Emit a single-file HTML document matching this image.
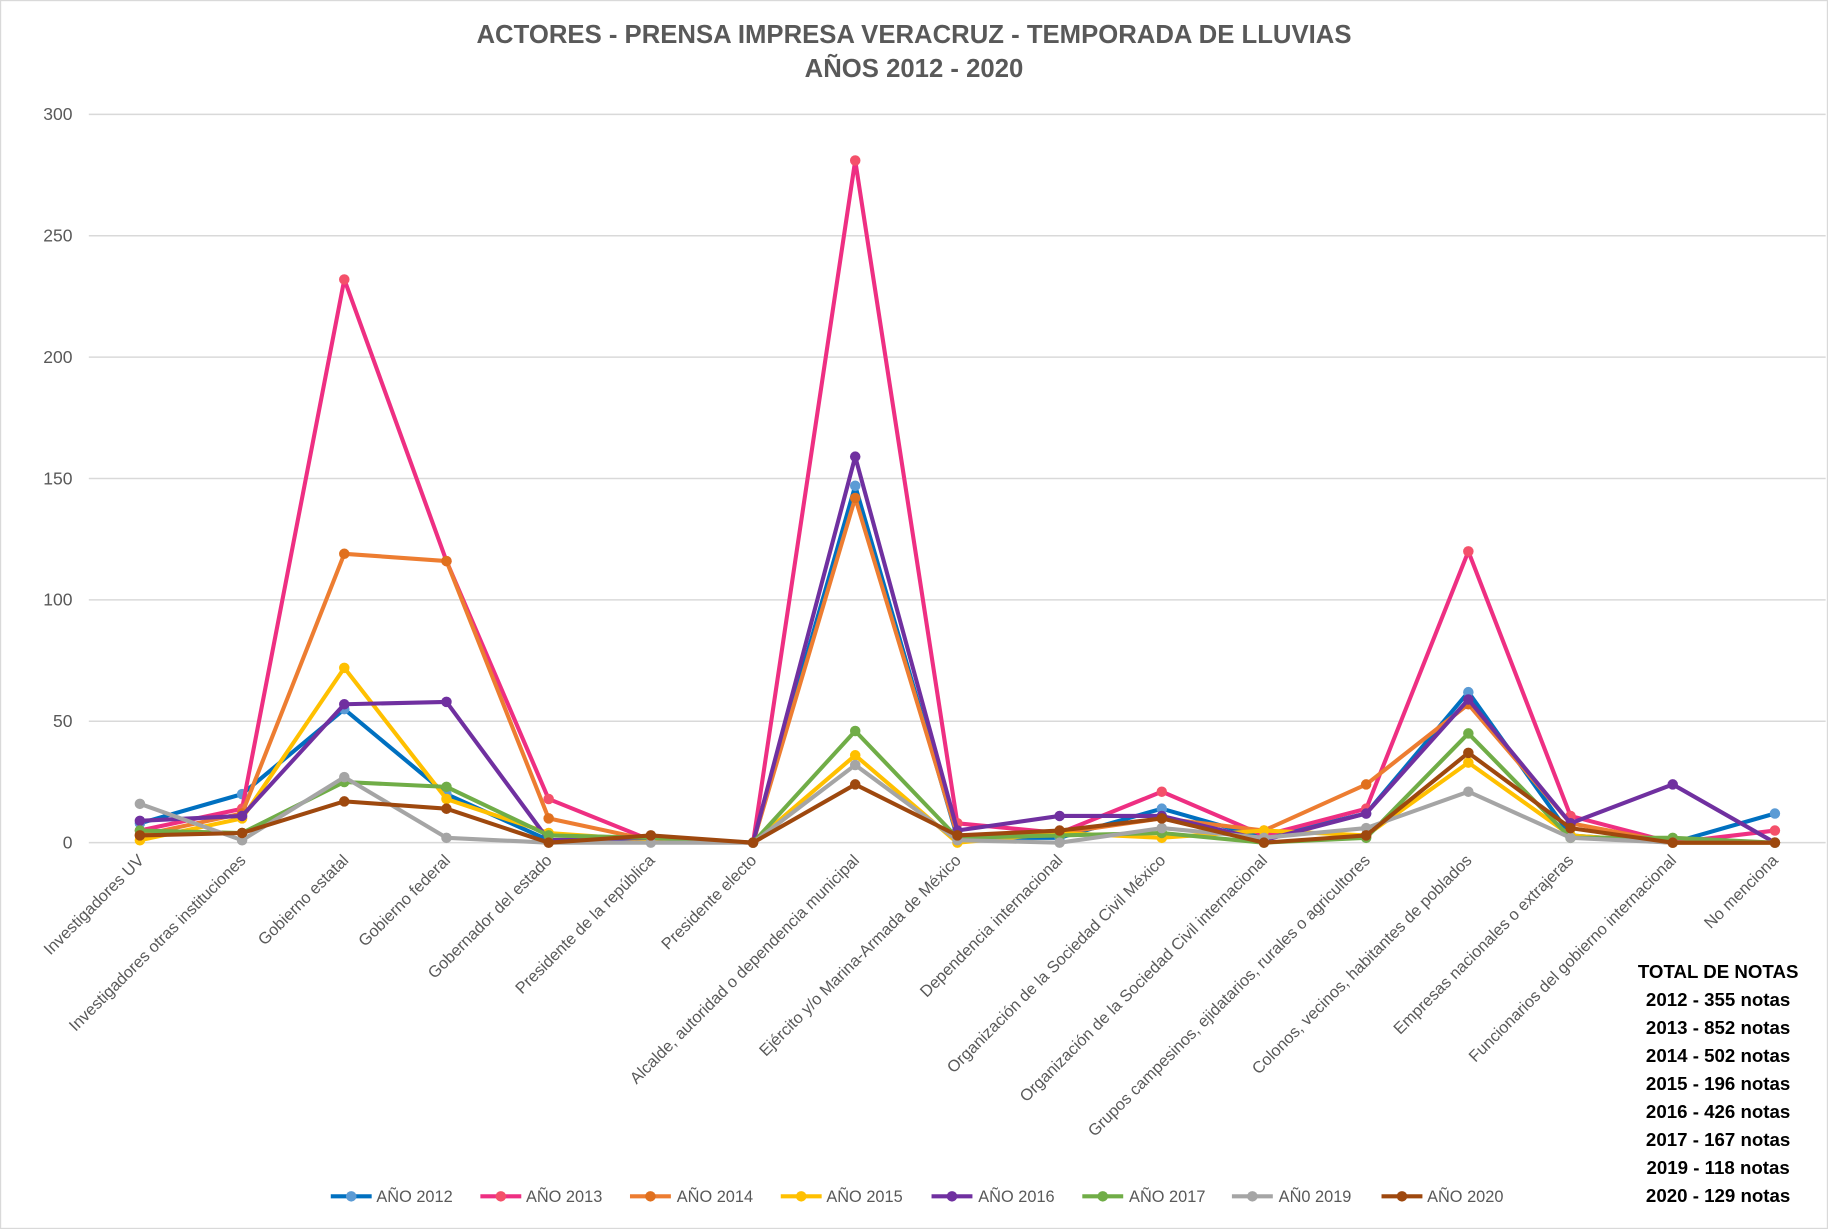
<!DOCTYPE html>
<html><head><meta charset="utf-8"><style>
html,body{margin:0;padding:0;background:#fff}
svg{display:block}
text{font-family:"Liberation Sans",sans-serif}
</style></head><body>
<svg id="s" width="1828" height="1229" viewBox="0 0 1564 1053" preserveAspectRatio="none">
<rect x="0.5" y="0.5" width="1563" height="1052" fill="#fff" stroke="#d9d9d9"/>
<text x="782" y="37" text-anchor="middle" font-size="22" font-weight="bold" fill="#595959">ACTORES  - PRENSA IMPRESA VERACRUZ - TEMPORADA DE LLUVIAS</text>
<text x="782" y="66" text-anchor="middle" font-size="22" font-weight="bold" fill="#595959">AÑOS 2012 - 2020</text>
<g stroke="#d9d9d9" stroke-width="1.3">
<line x1="76" x2="1562" y1="98" y2="98"/><line x1="76" x2="1562" y1="202" y2="202"/><line x1="76" x2="1562" y1="306" y2="306"/><line x1="76" x2="1562" y1="410" y2="410"/><line x1="76" x2="1562" y1="514" y2="514"/><line x1="76" x2="1562" y1="618" y2="618"/><line x1="76" x2="1562" y1="722" y2="722"/>
</g>
<g font-size="15" fill="#595959" text-anchor="end">
<text x="62" y="103">300</text><text x="62" y="207">250</text><text x="62" y="311">200</text><text x="62" y="415">150</text><text x="62" y="519">100</text><text x="62" y="623">50</text><text x="62" y="727">0</text>
</g>
<g font-size="14" fill="#595959" text-anchor="end">
<text transform="translate(124,738) rotate(-45)">Investigadores UV</text>
<text transform="translate(211,738) rotate(-45)">Investigadores otras instituciones</text>
<text transform="translate(299,738) rotate(-45)">Gobierno estatal</text>
<text transform="translate(386,738) rotate(-45)">Gobierno federal</text>
<text transform="translate(473,738) rotate(-45)">Gobernador del estado</text>
<text transform="translate(561,738) rotate(-45)">Presidente de la república</text>
<text transform="translate(648,738) rotate(-45)">Presidente electo</text>
<text transform="translate(736,738) rotate(-45)">Alcalde, autoridad o dependencia municipal</text>
<text transform="translate(823,738) rotate(-45)">Ejército y/o Marina-Armada de México</text>
<text transform="translate(910,738) rotate(-45)">Dependencia internacional</text>
<text transform="translate(998,738) rotate(-45)">Organización de la Sociedad Civil México</text>
<text transform="translate(1085,738) rotate(-45)">Organización de la Sociedad Civil internacional</text>
<text transform="translate(1173,738) rotate(-45)">Grupos campesinos, ejidatarios, rurales o agricultores</text>
<text transform="translate(1260,738) rotate(-45)">Colonos, vecinos, habitantes de poblados</text>
<text transform="translate(1347,738) rotate(-45)">Empresas nacionales o extrajeras</text>
<text transform="translate(1435,738) rotate(-45)">Funcionarios del gobierno internacional</text>
<text transform="translate(1522,738) rotate(-45)">No menciona</text>
</g>
<g id="series"></g>
<g font-size="14" fill="#595959">
<text x="322" y="1030">AÑO 2012</text><text x="450" y="1030">AÑO 2013</text><text x="579" y="1030">AÑO 2014</text><text x="707" y="1030">AÑO 2015</text><text x="837" y="1030">AÑO 2016</text><text x="966" y="1030">AÑO 2017</text><text x="1094" y="1030">AÑ0 2019</text><text x="1221" y="1030">AÑO 2020</text>
</g>
<g font-size="16" font-weight="bold" fill="#000" text-anchor="middle">
<text x="1470" y="838">TOTAL DE NOTAS</text>
<text x="1470" y="862">2012 -  355 notas</text>
<text x="1470" y="886">2013 - 852 notas</text>
<text x="1470" y="910">2014 - 502 notas</text>
<text x="1470" y="934">2015 - 196 notas</text>
<text x="1470" y="958">2016 - 426 notas</text>
<text x="1470" y="982">2017 - 167 notas</text>
<text x="1470" y="1006">2019 - 118 notas</text>
<text x="1470" y="1030">2020 - 129 notas</text>
</g>
</svg>
<script>
var S=[
["#0070C0","#5B9BD5",[8,20,55,20,1,1,0,147,2,2,14,2,12,62,3,0,12],283],
["#EE2F82","#F4506A",[5,14,232,116,18,1,0,281,8,4,21,3,14,120,11,0,5],411],
["#ED7D31","#E0701E",[3,12,119,116,10,1,0,142,3,4,10,5,24,57,8,0,0],539],
["#FFC000","#FFC000",[1,10,72,18,4,1,0,36,0,4,2,5,3,33,3,0,0],668],
["#7030A0","#7030A0",[9,11,57,58,1,2,0,159,5,11,11,1,12,59,8,24,0],797],
["#70AD47","#70AD47",[5,4,25,23,3,2,0,46,2,3,4,0,2,45,2,2,0],926],
["#A5A5A5","#A5A5A5",[16,1,27,2,0,0,0,32,1,0,6,2,6,21,2,0,0],1054],
["#9E480E","#9E480E",[3,4,17,14,0,3,0,24,3,5,10,0,3,37,6,0,0],1182]];
var g=document.getElementById("series"),h="";
S.forEach(function(s){var p=s[2].map(function(v,i){return (119.7+i*87.43).toFixed(1)+","+(722-v*2.08).toFixed(1)}).join(" ");
h+='<polyline points="'+p+'" fill="none" stroke="'+s[0]+'" stroke-width="3.5" stroke-linejoin="round"/>';
s[2].forEach(function(v,i){h+='<circle cx="'+(119.7+i*87.43)+'" cy="'+(722-v*2.08)+'" r="4.5" fill="'+s[1]+'"/>';});
h+='<line x1="'+s[3]+'" x2="'+(s[3]+35)+'" y1="1025" y2="1025" stroke="'+s[0]+'" stroke-width="3.5"/><circle cx="'+(s[3]+17.5)+'" cy="1025" r="4.5" fill="'+s[1]+'"/>';});
g.innerHTML=h;
</script>
</body></html>
